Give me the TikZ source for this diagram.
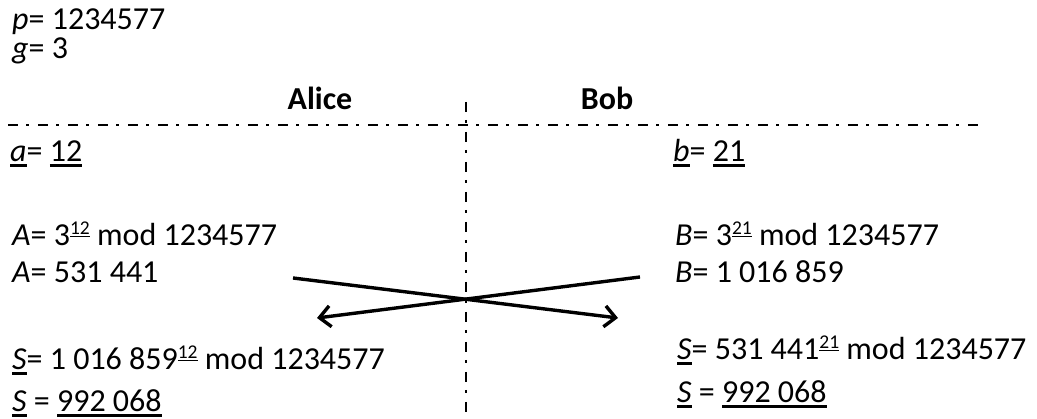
\documentclass[tikz,border=0pt]{standalone}
\usepackage{fontspec}
\setmainfont{Carlito}
\usetikzlibrary{arrows.meta}
\newcommand\ulx[1]{\setbox0\hbox{#1}\rlap{\rule[-5pt]{\wd0}{2.6pt}}\box0}
\newcommand\ulsup[1]{\raisebox{11.5pt}{\fontsize{19.5}{19.5}\selectfont\setbox0\hbox{#1}\rlap{\rule[-3pt]{\wd0}{1.6pt}}\box0}}
\tikzset{
  txt/.style={anchor=base west, inner sep=0pt, font=\fontsize{32}{37}\selectfont},
  head/.style={anchor=base, inner sep=0pt, font=\fontsize{32}{37}\selectfont\bfseries},
  divider/.style={line width=2pt, dash pattern=on 10pt off 8pt on 3pt off 9pt},
  xfer/.style={line width=3.4pt, -{Straight Barb[length=11pt,width=21pt,line width=3.4pt]}}
}
\begin{document}
\begin{tikzpicture}[x=1pt,y=-1pt]
\useasboundingbox (0,0) rectangle (1037,419);
\node[txt] (p) at (12,30) {\textit{p}= 1234577};
\node[txt] (g) at (12,59) {\textit{g}= 3};
\node[head] (alice) at (320,110) {Alice};
\node[head] (bob) at (607,110) {Bob};
\coordinate (hl) at (8,125);
\coordinate (hr) at (982,125);
\coordinate (vt) at (466,102);
\coordinate (vb) at (466,419);
\draw[divider] (hl) -- (hr);
\draw[divider] (vt) -- (vb);
\node[txt] (a) at (10,162) {\ulx{\textit{a}}= \ulx{12}};
\node[txt] (b) at (673,162) {\ulx{\textit{b}}= \ulx{21}};
\node[txt] (A1) at (12,246) {\textit{A}= 3\ulsup{12} mod 1234577};
\node[txt] (A2) at (12,283) {\textit{A}= 531 441};
\node[txt] (S1) at (12,370) {\ulx{\textit{S}}= 1 016 859\ulsup{12} mod 1234577};
\node[txt] (S2) at (12,412) {\ulx{\textit{S}}\ = \ulx{992 068}};
\node[txt] (B1) at (675,246) {\textit{B}= 3\ulsup{21} mod 1234577};
\node[txt] (B2) at (675,283) {\textit{B}= 1 016 859};
\node[txt] (T1) at (677,360) {\ulx{\textit{S}}= 531 441\ulsup{21} mod 1234577};
\node[txt] (T2) at (677,403) {\ulx{\textit{S}}\ = \ulx{992 068}};
\coordinate (aS) at (293,278);
\coordinate (aE) at (618,318);
\coordinate (bS) at (640,277);
\coordinate (bE) at (317,318);
\draw[xfer] (aS) -- (aE);
\draw[xfer] (bS) -- (bE);
\end{tikzpicture}
\end{document}
